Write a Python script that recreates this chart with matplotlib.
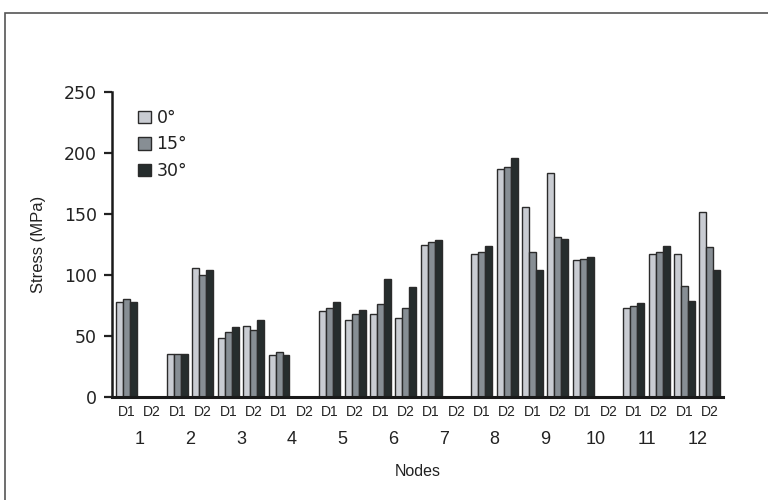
import matplotlib.pyplot as plt
import matplotlib.patches as mpatches
import matplotlib.transforms as mtransforms
import numpy as np

plt.rcParams['font.family'] = ['Liberation Sans', 'DejaVu Sans']

nodes = [str(i) for i in range(1, 13)]
directions = ['D1', 'D2']
angles = ['0°', '15°', '30°']

# stress per node/direction (D1, D2 pairs), one list per angle
stress_0 = [78, 0, 35, 106, 48.5, 58.5, 34.5, 0, 70.5, 63, 68, 65,
            125, 0, 117, 186.5, 155.5, 184, 112, 0, 73, 117, 117, 152]
stress_15 = [80, 0, 35, 100, 53.5, 55, 37, 0, 73, 68, 76, 73,
             127, 0, 119, 188.5, 119, 131.5, 113.5, 0, 74.5, 119, 91, 123]
stress_30 = [78, 0, 35, 104, 57, 63, 34.5, 0, 77.5, 71, 97, 90,
             128.5, 0, 123.5, 196, 104.5, 129.5, 115, 0, 77, 124, 78.5, 104.5]

colors = ['#c9ccd2', '#878e94', '#262d2d']
edge = '#2b2b2b'
txt = '#222222'

fig = plt.figure(figsize=(7.68, 5.0), dpi=100)
ax = fig.add_axes([112 / 768, 1 - 397 / 500, 611 / 768, 305 / 500])

x = np.arange(len(stress_0))
w = 0.276
for i, (vals, c, lab) in enumerate(zip([stress_0, stress_15, stress_30], colors, angles)):
    ax.bar(x + (i - 1) * w, vals, width=w, color=c, edgecolor=edge,
           linewidth=1.0, label=lab)

ax.set_xlim(-0.59, 23.52)
ax.set_ylim(0, 250)
ax.set_yticks([0, 50, 100, 150, 200, 250])
ax.set_yticklabels([0, 50, 100, 150, 200, 250], family='DejaVu Sans')
ax.set_xticks(x)
ax.set_xticklabels(directions * len(nodes), fontsize=10, color=txt)
ax.tick_params(axis='x', length=0, pad=6)
ax.tick_params(axis='y', direction='out', length=6, width=1.6,
               labelsize=12.5, colors=txt, pad=5)

for s in ['top', 'right']:
    ax.spines[s].set_visible(False)
ax.spines['left'].set_linewidth(1.8)
ax.spines['bottom'].set_linewidth(2.2)
ax.spines['left'].set_color('#1a1a1a')
ax.spines['bottom'].set_color('#1a1a1a')

trans = mtransforms.blended_transform_factory(ax.transData, ax.transAxes)
for k, n in enumerate(nodes):
    ax.text(2 * k + 0.5, -0.138, n, transform=trans, ha='center', va='center',
            fontsize=13, color=txt)
ax.text(0.5, -0.243, 'Nodes', transform=ax.transAxes, ha='center',
        va='center', fontsize=11.5, color=txt)
ax.set_ylabel('Stress (MPa)', fontsize=12, color=txt)
ax.yaxis.set_label_coords(-0.108, 0.5)

leg = ax.legend(loc='upper left', bbox_to_anchor=(0.0426, 0.945), frameon=False,
                prop={'family': 'DejaVu Sans', 'size': 12.5},
                handlelength=0.72, handleheight=0.72, handletextpad=0.35,
                labelspacing=0.5, borderaxespad=0, borderpad=0)
for t in leg.get_texts():
    t.set_color(txt)

# frame around the figure
fig.patches.append(mpatches.Rectangle((5 / 768, -0.1), 1.2, 1 - 13 / 500 + 0.1,
                                      transform=fig.transFigure, fill=False,
                                      edgecolor='#555555', linewidth=1.2))

fig.savefig('out.png', dpi=100)
